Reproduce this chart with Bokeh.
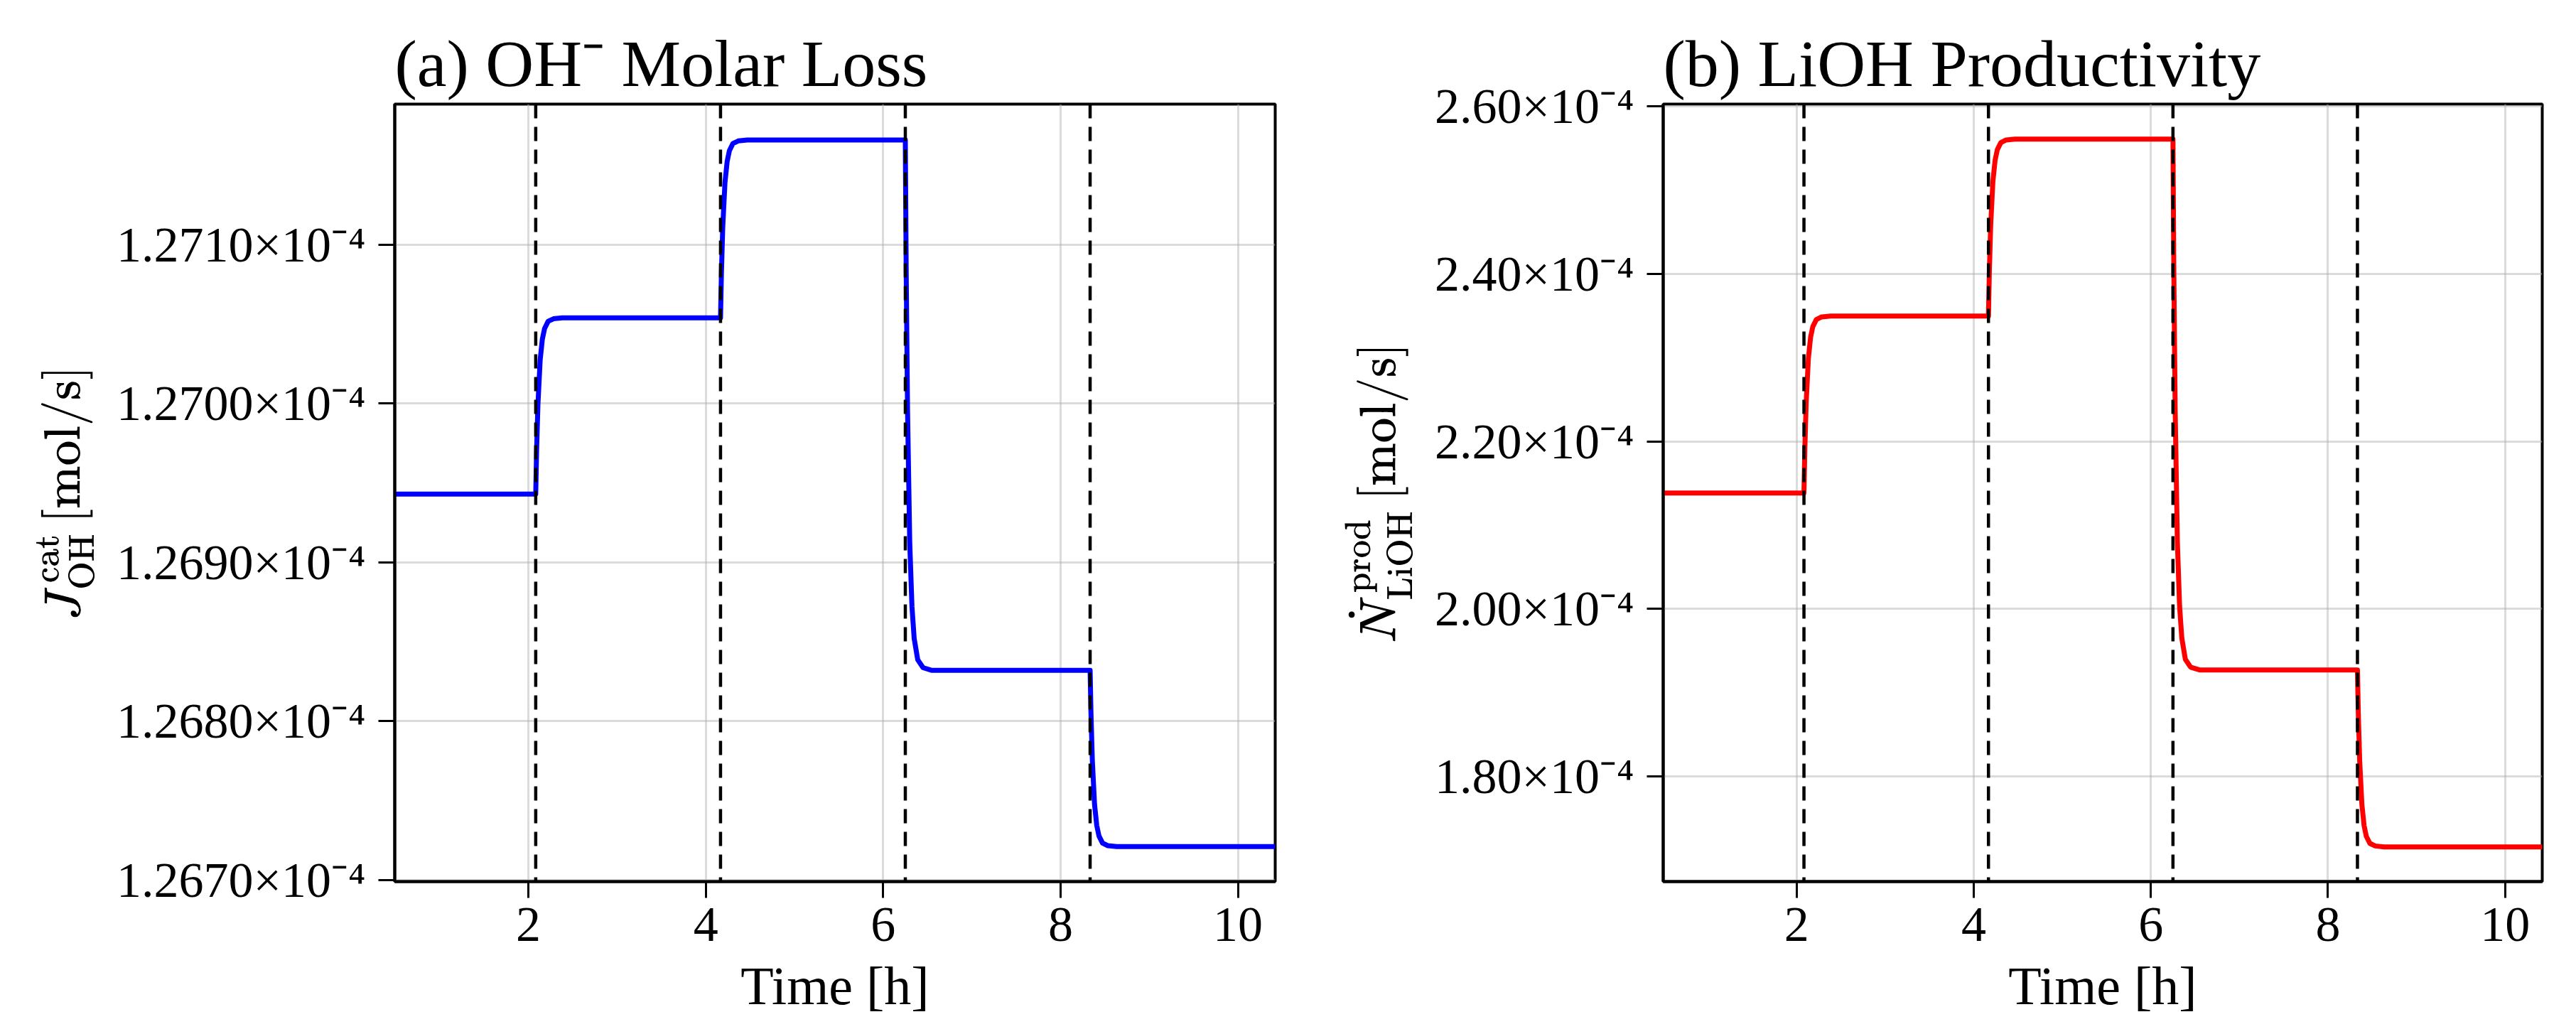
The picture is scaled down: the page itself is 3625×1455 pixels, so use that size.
from bokeh.plotting import figure
from bokeh.models import Range1d, FixedTicker, CustomJSTickFormatter, Span
from bokeh.layouts import row
from bokeh.embed import file_html
from bokeh.resources import INLINE

# ---- data (y values in units of 1e-4 mol/s) ----
time_h = [0.494,
          2.0833, 2.0933, 2.1083, 2.1333, 2.1583, 2.1833, 2.2233, 2.2833, 2.3833,
          4.1667, 4.1767, 4.1917, 4.2167, 4.2417, 4.2667, 4.3067, 4.3667, 4.4667,
          6.25, 6.26, 6.275, 6.3, 6.325, 6.35, 6.39, 6.45, 6.55,
          8.3333, 8.3433, 8.3583, 8.3833, 8.4083, 8.4333, 8.4733, 8.5333, 8.6333,
          10.42]

oh_loss_e4 = [1.26943,
              1.26943, 1.269708, 1.269996, 1.270274, 1.270407, 1.270473, 1.270518, 1.270534, 1.27054,
              1.27054, 1.27082, 1.271111, 1.271391, 1.271526, 1.271593, 1.271638, 1.271654, 1.27166,
              1.27166, 1.270825, 1.269957, 1.269122, 1.268721, 1.26852, 1.268387, 1.268337, 1.26832,
              1.26832, 1.268042, 1.267754, 1.267476, 1.267343, 1.267277, 1.267232, 1.267216, 1.26721,
              1.26721]

lioh_prod_e4 = [2.1385,
                2.1385, 2.1913, 2.2462, 2.2990, 2.3244, 2.3370, 2.3455, 2.3486, 2.3497,
                2.3497, 2.4025, 2.4574, 2.5102, 2.5356, 2.5482, 2.5567, 2.5598, 2.5609,
                2.5609, 2.4025, 2.2378, 2.0794, 2.0033, 1.9653, 1.9400, 1.9305, 1.9273,
                1.9273, 1.8745, 1.8196, 1.7668, 1.7414, 1.7288, 1.7203, 1.7172, 1.7161,
                1.7161]

switch_times_h = [2.0833, 4.1667, 6.25, 8.3333]
x_ticks = [2, 4, 6, 8, 10]
oh_ticks = [1.2670, 1.2680, 1.2690, 1.2700, 1.2710]
lioh_ticks = [1.80, 2.00, 2.20, 2.40, 2.60]

x_limits = (0.494, 10.42)
oh_limits = (1.26699, 1.271886)
lioh_limits = (1.6747, 2.6026)

titles = ["(a) OH\u207b Molar Loss", "(b) LiOH Productivity"]
ylabels = [r"$$J_{\mathrm{OH}}^{\mathrm{cat}}\,[\mathrm{mol/s}]$$",
           r"$$\dot{N}_{\mathrm{LiOH}}^{\mathrm{prod}}\,[\mathrm{mol/s}]$$"]
xlabel = "Time [h]"

FONT = "Liberation Serif"


def make_panel(title, ylabel, yvals, ylim, yticks, digits, color, width, border_left, ylab_standoff):
    p = figure(width=width, height=1431,
               x_range=Range1d(*x_limits), y_range=Range1d(*ylim),
               output_backend="svg", toolbar_location=None,
               min_border_left=border_left, min_border_right=20,
               min_border_top=146, min_border_bottom=190,
               background_fill_color="white", border_fill_color="white")
    p.title.text = title
    p.title.align = "left"
    p.title.text_font = FONT
    p.title.text_font_size = "94px"
    p.title.text_font_style = "normal"
    p.title.text_color = "black"
    p.title.standoff = 12

    p.outline_line_color = "black"
    p.outline_line_width = 4
    p.outline_line_alpha = 1.0

    p.xaxis.ticker = FixedTicker(ticks=x_ticks)
    p.yaxis.ticker = FixedTicker(ticks=yticks)
    p.yaxis.formatter = CustomJSTickFormatter(
        code="return tick.toFixed(%d) + '\u00d710\u207b\u2074';" % digits)

    for ax in (p.xaxis, p.yaxis):
        ax.axis_line_color = "black"
        ax.axis_line_width = 4
        ax.major_tick_line_color = "black"
        ax.major_tick_line_width = 3
        ax.major_tick_out = 23
        ax.major_tick_in = 0
        ax.minor_tick_line_color = None
        ax.major_label_text_font = FONT
        ax.major_label_text_font_size = "70px"
        ax.major_label_text_color = "black"
        ax.axis_label_text_font = FONT
        ax.axis_label_text_font_style = "normal"
        ax.axis_label_text_color = "black"

    p.xaxis.axis_label = xlabel
    p.xaxis.axis_label_text_font_size = "76px"
    p.xaxis.major_label_standoff = 14
    p.xaxis.axis_label_standoff = 18
    p.yaxis.axis_label = ylabel
    p.yaxis.axis_label_text_font_size = "70px"
    p.yaxis.major_label_standoff = 18
    p.yaxis.axis_label_standoff = ylab_standoff

    p.grid.grid_line_color = "#b0b0b0"
    p.grid.grid_line_alpha = 0.45
    p.grid.grid_line_width = 3

    for t in switch_times_h:
        p.add_layout(Span(location=t, dimension="height", line_color="black",
                          line_width=4.5, line_dash="20 12"))

    p.line(time_h, yvals, line_color=color, line_width=7, line_join="round")
    return p


p1 = make_panel(titles[0], ylabels[0], oh_loss_e4, oh_limits, oh_ticks, 4,
                "#0000ff", 1814, 555, 28)
p2 = make_panel(titles[1], ylabels[1], lioh_prod_e4, lioh_limits, lioh_ticks, 2,
                "#ff0000", 1783, 526, 28)

layout = row(p1, p2, spacing=0)
open("out.html", "w").write(file_html(layout, INLINE))
